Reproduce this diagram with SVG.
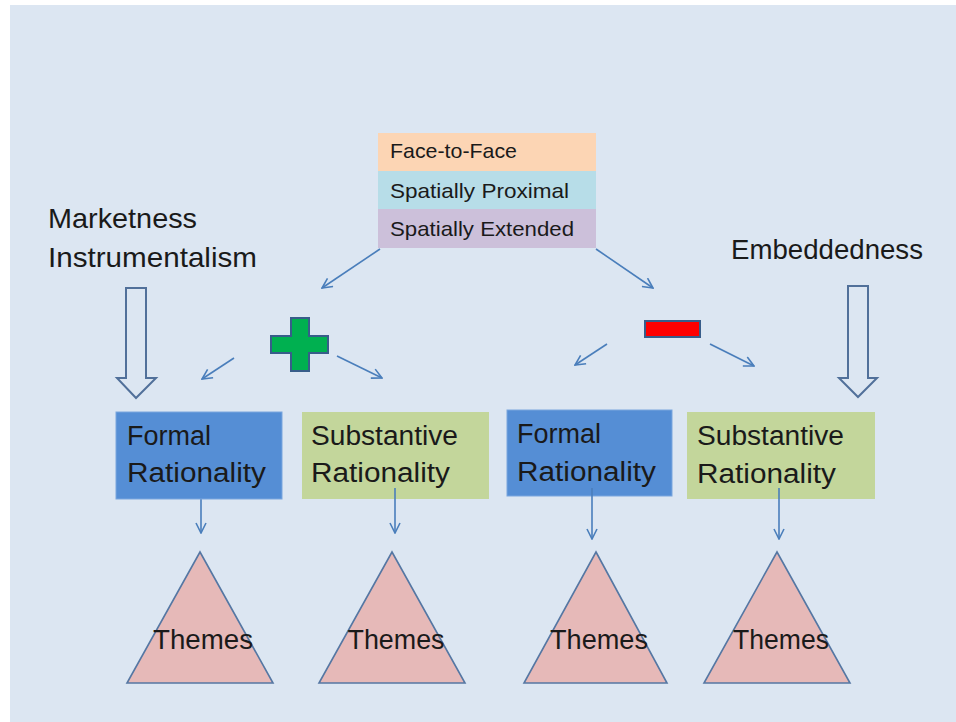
<svg xmlns="http://www.w3.org/2000/svg" width="956" height="722" viewBox="0 0 956 722">
<defs>
<marker id="ah" viewBox="0 0 12 12" refX="11" refY="6" markerWidth="12" markerHeight="12" markerUnits="userSpaceOnUse" orient="auto">
<path d="M1,1 L11,6 L1,11" fill="none" stroke="#4a7ebb" stroke-width="1.6"/>
</marker>
</defs>
<style>
text{font-family:"Liberation Sans",Arial,sans-serif;fill:#1a1a1a}
.st{font-size:21px}
.lb{font-size:28px}
.bx{font-size:27px}
.th{font-size:27px;text-anchor:middle}
.con line{stroke:#4a7ebb;stroke-width:1.6;marker-end:url(#ah)}
.tri{fill:#e6b9b8;stroke:#5577a3;stroke-width:1.6}
.hol{fill:#dce6f2;stroke:#51709a;stroke-width:2}
</style>
<rect x="0" y="0" width="956" height="722" fill="#ffffff"/>
<rect x="10" y="5" width="946" height="717" fill="#dce6f2"/>

<g id="stack">
<rect x="378" y="133" width="218" height="38" fill="#fcd5b4"/>
<rect x="378" y="171" width="218" height="38" fill="#b7dde8"/>
<rect x="378" y="209" width="218" height="39" fill="#ccc0da"/>
<text class="st" x="390" y="158" textLength="127" lengthAdjust="spacingAndGlyphs">Face-to-Face</text>
<text class="st" x="390" y="198" textLength="179" lengthAdjust="spacingAndGlyphs">Spatially Proximal</text>
<text class="st" x="390" y="236" textLength="184" lengthAdjust="spacingAndGlyphs">Spatially Extended</text>
</g>

<g id="label-left">
<text class="lb" x="48" y="228" textLength="149" lengthAdjust="spacingAndGlyphs">Marketness</text>
<text class="lb" x="48" y="267" textLength="209" lengthAdjust="spacingAndGlyphs">Instrumentalism</text>
</g>
<g id="label-right">
<text class="lb" x="731" y="259" textLength="192" lengthAdjust="spacingAndGlyphs">Embeddedness</text>
</g>

<g id="hollow-left">
<path class="hol" d="M126,288 L146,288 L146,378 L156,378 L136,398 L117,378 L126,378 Z"/>
</g>
<g id="hollow-right">
<path class="hol" d="M848,286 L868,286 L868,378 L877,378 L858,397 L839,378 L848,378 Z"/>
</g>

<g id="plus">
<path d="M291,318 L309,318 L309,336 L328,336 L328,353 L309,353 L309,371 L291,371 L291,353 L271,353 L271,336 L291,336 Z" fill="#00b050" stroke="#385d8a" stroke-width="2"/>
</g>
<g id="minus">
<rect x="645" y="321" width="55" height="16" fill="#ff0000" stroke="#385d8a" stroke-width="2"/>
</g>

<g class="con" id="connectors">
<line x1="380" y1="249" x2="322" y2="288"/>
<line x1="596" y1="249" x2="653" y2="288"/>
<line x1="234" y1="358" x2="202" y2="379"/>
<line x1="337" y1="356" x2="382" y2="378"/>
<line x1="607" y1="344" x2="575" y2="365"/>
<line x1="710" y1="344" x2="754" y2="366"/>
<line x1="201" y1="499" x2="201" y2="533"/>
</g>

<g id="formal1">
<rect x="116" y="412" width="166" height="87" fill="#558ed5" stroke="#7aa6de" stroke-width="1"/>
<text class="bx" x="127" y="445">Formal</text>
<text class="bx" x="127" y="482" textLength="139" lengthAdjust="spacingAndGlyphs">Rationality</text>
</g>
<g id="subst1">
<rect x="302" y="412" width="187" height="87" fill="#c3d69b"/>
<text class="bx" x="311" y="445" textLength="147" lengthAdjust="spacingAndGlyphs">Substantive</text>
<text class="bx" x="311" y="482" textLength="139" lengthAdjust="spacingAndGlyphs">Rationality</text>
</g>
<g id="formal2">
<rect x="507" y="410" width="165" height="86" fill="#558ed5" stroke="#7aa6de" stroke-width="1"/>
<text class="bx" x="517" y="443">Formal</text>
<text class="bx" x="517" y="481" textLength="139" lengthAdjust="spacingAndGlyphs">Rationality</text>
</g>
<g id="subst2">
<rect x="687" y="412" width="188" height="87" fill="#c3d69b"/>
<text class="bx" x="697" y="445" textLength="147" lengthAdjust="spacingAndGlyphs">Substantive</text>
<text class="bx" x="697" y="483" textLength="139" lengthAdjust="spacingAndGlyphs">Rationality</text>
</g>

<g class="con" id="connectors-down">
<line x1="395" y1="488" x2="395" y2="533"/>
<line x1="592" y1="488" x2="592" y2="539"/>
<line x1="779" y1="488" x2="779" y2="539"/>
</g>

<g id="themes1">
<polygon class="tri" points="200,552 273,683 127,683"/>
<text class="th" x="203" y="649" textLength="100" lengthAdjust="spacingAndGlyphs">Themes</text>
</g>
<g id="themes2">
<polygon class="tri" points="392,552 465,683 319,683"/>
<text class="th" x="396" y="649" textLength="97" lengthAdjust="spacingAndGlyphs">Themes</text>
</g>
<g id="themes3">
<polygon class="tri" points="596,552 667,683 524,683"/>
<text class="th" x="599" y="649" textLength="98" lengthAdjust="spacingAndGlyphs">Themes</text>
</g>
<g id="themes4">
<polygon class="tri" points="777,552 850,683 704,683"/>
<text class="th" x="781" y="649" textLength="96" lengthAdjust="spacingAndGlyphs">Themes</text>
</g>
</svg>
